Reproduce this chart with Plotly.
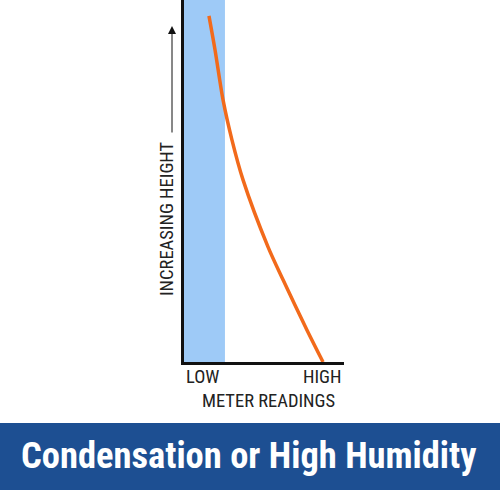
import plotly.graph_objects as go

# Data (normalized: 0 = LOW / ground, 1 = HIGH / top)
meter_reading = [0.156, 0.194, 0.244, 0.300, 0.369, 0.525, 0.619, 0.769, 0.869]
height = [0.956, 0.862, 0.724, 0.613, 0.503, 0.318, 0.227, 0.088, 0.0]
band_range = [0.0, 0.256]
x_tick_labels = ["LOW", "HIGH"]
x_title = "METER READINGS"
y_title = "INCREASING HEIGHT"
banner_text = "Condensation or High Humidity"

W, H = 500, 490
L, R, T, B = 184, 156, 0, 128
PW, PH = W - L - R, H - T - B


def px(x):
    return (x - L) / PW


def py(y):
    return (H - B - y) / PH


NARROW = "Liberation Sans Narrow, Roboto Condensed, Arial Narrow, Liberation Sans, sans-serif"

fig = go.Figure()
fig.add_trace(go.Scatter(
    x=meter_reading, y=height, mode="lines",
    line=dict(color="#f26a1b", width=3.5, shape="spline", smoothing=0.8),
    hoverinfo="skip", showlegend=False,
))

shapes = [
    dict(type="rect", xref="x", yref="paper", x0=band_range[0], x1=band_range[1],
         y0=0, y1=1, fillcolor="#9ecaf7", line=dict(width=0), layer="below"),
    dict(type="rect", xref="paper", yref="paper", x0=px(0), x1=px(W),
         y0=py(423), y1=py(H), fillcolor="#1d4f92", line=dict(width=0)),
]

annotations = [
    dict(x=0, y=0, xref="x", yref="y", text=x_tick_labels[0], showarrow=False,
         xanchor="left", yanchor="top", yshift=-2,
         font=dict(family=NARROW, size=18.5, color="#222")),
    dict(x=1, y=0, xref="x", yref="y", text=x_tick_labels[1], showarrow=False,
         xanchor="right", yanchor="top", yshift=-2,
         font=dict(family=NARROW, size=18.5, color="#222")),
    dict(x=px(268), y=py(401), xref="paper", yref="paper", text=x_title, showarrow=False,
         xanchor="center", yanchor="middle",
         font=dict(family=NARROW, size=18.5, color="#222")),
    dict(x=px(167), y=py(219), xref="paper", yref="paper", text=y_title, showarrow=False,
         textangle=-90, xanchor="center", yanchor="middle",
         font=dict(family=NARROW, size=18.5, color="#222")),
    dict(x=px(172), y=py(26), xref="paper", yref="paper", ax=0, ay=108,
         axref="pixel", ayref="pixel", text="", showarrow=True,
         arrowhead=2, arrowsize=1.6, arrowwidth=1, arrowcolor="#111"),
    dict(x=px(249), y=py(456), xref="paper", yref="paper", text="<b>" + banner_text + "</b>",
         showarrow=False, xanchor="center", yanchor="middle",
         font=dict(family=NARROW, size=36.5, color="white")),
]

fig.update_layout(
    width=W, height=H,
    margin=dict(l=L, r=R, t=T, b=B),
    paper_bgcolor="white", plot_bgcolor="white",
    shapes=shapes, annotations=annotations,
    xaxis=dict(range=[0, 1], showgrid=False, zeroline=False, showticklabels=False,
               ticks="", showline=True, linecolor="#111", linewidth=2.5, fixedrange=True),
    yaxis=dict(range=[0, 1], showgrid=False, zeroline=False, showticklabels=False,
               ticks="", showline=True, linecolor="#111", linewidth=2.5, fixedrange=True),
)

fig.write_html("out.html", config=dict(displayModeBar=False))

# remove default page margin so the figure sits at the window's top-left corner
with open("out.html", "r", encoding="utf-8") as f:
    html = f.read()
html = html.replace("<head>", "<head><style>html,body{margin:0;padding:0;overflow:hidden}</style>", 1)
with open("out.html", "w", encoding="utf-8") as f:
    f.write(html)
